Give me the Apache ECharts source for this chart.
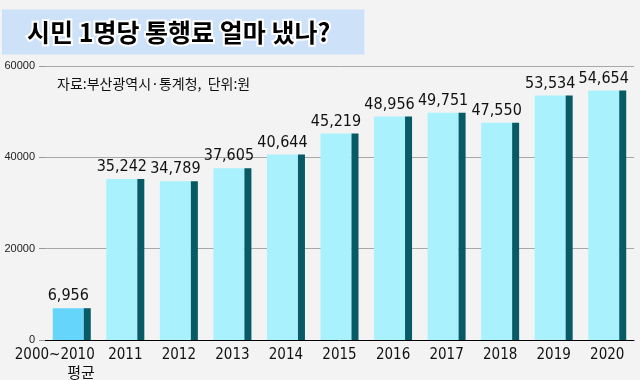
<!DOCTYPE html>
<html>
<head>
<meta charset="utf-8">
<script src="https://cdn.jsdelivr.net/npm/echarts@6/dist/echarts.min.js"></script>
<style>html,body{margin:0;padding:0;background:#f3f3f3;}#c{width:640px;height:380px;}</style>
</head>
<body>
<div id="c"></div>
<script>
const categories = ['2000~2010\n평균', '2011', '2012', '2013', '2014', '2015', '2016', '2017', '2018', '2019', '2020'];
const values = [6956, 35242, 34789, 37605, 40644, 45219, 48956, 49751, 47550, 53534, 54654];
const yTicks = [0, 20000, 40000, 60000];
const titleText = '시민 1명당 통행료 얼마 냈나?';
const sourceText = '자료:부산광역시·통계청,  단위:원';

const NARROW = '"DejaVu Sans Condensed", "Liberation Sans", "Noto Sans CJK KR", sans-serif';
const FONT = '"Liberation Sans", Arial, "Noto Sans CJK KR", sans-serif';
const chart = echarts.init(document.getElementById('c'), null, {renderer: 'canvas'});
chart.setOption({
  backgroundColor: '#f3f3f3',
  animation: false,
  title: [{
    text: titleText,
    left: 4, top: 11,
    padding: [8, 32, 8, 23],
    backgroundColor: '#cde2f8',
    textStyle: {
      fontFamily: '"Noto Sans CJK KR", sans-serif',
      fontWeight: 'bold', fontSize: 25, color: '#000',
      textBorderColor: '#fff', textBorderWidth: 4, lineHeight: 26
    }
  }, {
    text: sourceText,
    left: 52, top: 72,
    textStyle: {fontFamily: '"Noto Sans CJK KR", sans-serif', fontWeight: 'normal', fontSize: 14, color: '#111'}
  }],
  grid: {left: 45, right: 6, top: 66, bottom: 40, containLabel: false},
  xAxis: {
    type: 'category',
    data: categories.map((c, i) => i === 0 ? {value: c, textStyle: {padding: [0, 34, 0, 0]}} : c),
    axisLine: {lineStyle: {color: '#000', width: 1}},
    axisTick: {show: false},
    axisLabel: {
      interval: 0, margin: 7, color: '#111', fontSize: 15, fontFamily: NARROW, lineHeight: 17,
      formatter: function (v) {
        if (v.indexOf('\n') >= 0) {
          const p = v.split('\n');
          return '{a|' + p[0] + '}\n{b|' + p[1] + '}';
        }
        return v;
      },
      rich: {
        a: {fontSize: 15, fontFamily: NARROW, color: '#111', lineHeight: 17},
        b: {fontSize: 15, fontFamily: '"Noto Sans CJK KR", sans-serif', color: '#111', align: 'right', lineHeight: 16}
      }
    }
  },
  yAxis: {
    type: 'value',
    min: yTicks[0], max: yTicks[yTicks.length - 1], interval: yTicks[1] - yTicks[0],
    axisLine: {show: false},
    axisTick: {show: true, length: 6, lineStyle: {color: '#999'}},
    splitLine: {lineStyle: {color: '#a8a8a8', width: 1}},
    axisLabel: {margin: 10, fontSize: 11, color: '#222', fontFamily: FONT, formatter: v => String(v)}
  },
  series: [{
    type: 'bar',
    barWidth: 31,
    barGap: '0%',
    data: values.map((v, i) => i === 0 ? {value: v, itemStyle: {color: '#66d5fb'}} : v),
    itemStyle: {color: '#a9f1fd'},
    label: {
      show: true, position: 'top', distance: 4,
      fontSize: 16, fontFamily: NARROW, color: '#111',
      formatter: p => p.value.toLocaleString('en-US')
    }
  }, {
    type: 'bar',
    barWidth: 7,
    barGap: '0%',
    data: values,
    itemStyle: {color: '#075a66'}
  }]
});
</script>
</body>
</html>
